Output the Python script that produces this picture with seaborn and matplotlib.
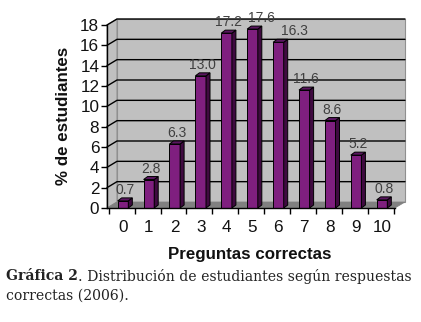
import matplotlib
matplotlib.use("Agg")
import matplotlib.pyplot as plt
from matplotlib.patches import Polygon
from matplotlib.text import Annotation
import seaborn as sns
import pandas as pd

categories = ["0", "1", "2", "3", "4", "5", "6", "7", "8", "9", "10"]
values = [0.7, 2.8, 6.3, 13.0, 17.2, 17.6, 16.3, 11.6, 8.6, 5.2, 0.8]
yticks = [0, 2, 4, 6, 8, 10, 12, 14, 16, 18]
xlabel = "Preguntas correctas"
ylabel = "% de estudiantes"
caption_bold = "Gráfica 2"
caption_rest1 = ". Distribución de estudiantes según respuestas"
caption_line2 = "correctas (2006)."

sns.set_style("white")
plt.rcParams["font.family"] = ["Liberation Sans", "DejaVu Sans"]

W, H = 421, 322
fig = plt.figure(figsize=(W / 100, H / 100), dpi=100)
fig.patch.set_facecolor("white")

# front face of the 3D box, pixel coords
fx0, fx1, fy_top, fy_bot = 107, 395, 25, 208
ax = fig.add_axes([fx0 / W, (H - fy_bot) / H, (fx1 - fx0) / W, (fy_bot - fy_top) / H])
ax.set_facecolor("none")

cat0_px, cat_step = 123, 25.9
xmin = -(cat0_px - fx0) / cat_step
xmax = (fx1 - cat0_px) / cat_step
ymin, ymax = 0, 18
xu = (fx1 - fx0) / (xmax - xmin)
yu = (fy_bot - fy_top) / (ymax - ymin)
dx = 10 / xu
dy = 6 / yu

wall = "#c0c0c0"
floor_c = "#808080"

# back wall
ax.add_patch(Polygon([(xmin + dx, ymin + dy), (xmax + dx, ymin + dy),
                      (xmax + dx, ymax + dy), (xmin + dx, ymax + dy)],
                     closed=True, facecolor=wall, edgecolor="#909090",
                     linewidth=0.8, clip_on=False, zorder=0))
# left side wall
ax.add_patch(Polygon([(xmin, ymin), (xmin + dx, ymin + dy),
                      (xmin + dx, ymax + dy), (xmin, ymax)],
                     closed=True, facecolor=wall, edgecolor="#909090",
                     linewidth=0.8, clip_on=False, zorder=0))
# gridlines
for t in yticks[1:]:
    ax.plot([xmin, xmin + dx, xmax + dx], [t, t + dy, t + dy], color="black",
            linewidth=1.0, clip_on=False, zorder=1)
# floor
ax.add_patch(Polygon([(xmin, ymin), (xmax, ymin), (xmax + dx, ymin + dy),
                      (xmin + dx, ymin + dy)],
                     closed=True, facecolor=floor_c, edgecolor=floor_c,
                     linewidth=0.5, clip_on=False, zorder=1.5))

df = pd.DataFrame({"cat": categories, "val": values})
front_c = "#7f1f7f"
side_c = "#3f0a40"
top_c = "#5a1660"
sns.barplot(data=df, x="cat", y="val", color=front_c, saturation=1,
            width=0.41, edgecolor="black", linewidth=0.7, ax=ax, zorder=3)

bdx = 4 / xu
bdy = 3 / yu
bars = [p for p in ax.patches if hasattr(p, "get_width") and p.get_width() < 1]
labels = []
for p in bars:
    x, w, h = p.get_x(), p.get_width(), p.get_height()
    ax.add_patch(Polygon([(x + w, 0), (x + w + bdx, bdy), (x + w + bdx, h + bdy), (x + w, h)],
                         closed=True, facecolor=side_c, edgecolor="black",
                         linewidth=0.7, clip_on=False, zorder=3))
    ax.add_patch(Polygon([(x, h), (x + w, h), (x + w + bdx, h + bdy), (x + bdx, h + bdy)],
                         closed=True, facecolor=top_c, edgecolor="black",
                         linewidth=0.7, clip_on=False, zorder=3))
    labels.append(ax.text(x + w / 2 + bdx / 2, h + bdy + 0.1, f"{h:.1f}", ha="center",
                          va="bottom", fontsize=10, color="#404040", zorder=4))

ax.set_xlim(xmin, xmax)
ax.set_ylim(ymin, ymax)
ax.set_yticks(yticks)
ax.set_yticklabels([str(t) for t in yticks])
ax.set_xticks(range(len(categories)))
ax.set_xticklabels(categories)
ax.set_xticks([i - 0.55 for i in range(len(categories) + 1)], minor=True)
ax.tick_params(axis="x", which="major", length=0, pad=9, labelsize=12.3, labelcolor="#111111")
ax.tick_params(axis="x", which="minor", length=4, width=1, direction="out", color="black", bottom=True)
ax.tick_params(axis="y", length=4, width=1, direction="out", color="black", left=True,
               labelsize=12.3, labelcolor="#111111", pad=1.5)
ax.set_xlabel("")
ax.set_ylabel("")
for s in ["top", "right"]:
    ax.spines[s].set_visible(False)
for s in ["left", "bottom"]:
    ax.spines[s].set_visible(True)
    ax.spines[s].set_color("black")
    ax.spines[s].set_linewidth(1.0)
    ax.spines[s].set_zorder(5)

fig.text(250 / W, 1 - 255 / H, xlabel, ha="center", va="center",
         fontsize=12.2, fontweight="bold", color="#111111")
fig.text(63 / W, 1 - 116 / H, ylabel, ha="center", va="center", rotation=90,
         fontsize=12.2, fontweight="bold", color="#111111")

serif = ["DejaVu Serif"]
cap_fs = 10.1
t1 = fig.text(6 / W, 1 - 276 / H, caption_bold, ha="left", va="center",
              fontsize=cap_fs, fontweight="bold", family=serif, color="#222222")
fig.add_artist(Annotation(caption_rest1, xy=(1, 0.5), xycoords=t1,
                          ha="left", va="center", fontsize=cap_fs,
                          family=serif, color="#222222"))
fig.text(6 / W, 1 - 296 / H, caption_line2, ha="left", va="center",
         fontsize=cap_fs, family=serif, color="#222222")

# nudge value labels to the right when they collide with the previous one
fig.canvas.draw()
renderer = fig.canvas.get_renderer()
prev = None
gap = 6
for t in labels:
    bb = t.get_window_extent(renderer)
    if prev is not None:
        vert = bb.y0 < prev.y1 and bb.y1 > prev.y0
        if vert and bb.x0 < prev.x1 + gap:
            shift = prev.x1 + gap - bb.x0
            px, py = t.get_position()
            t.set_x(px + shift / xu)
            bb = t.get_window_extent(renderer)
    prev = bb

fig.savefig("out.png", dpi=100)
